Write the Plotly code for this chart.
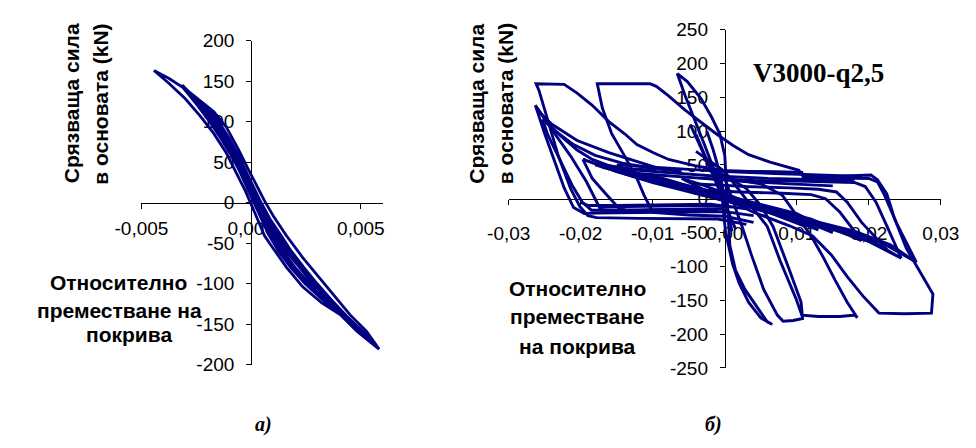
import plotly.graph_objects as go

W, H = 976, 448
LINE = "#000080"

# ---------------- chart а): small-amplitude cycles ----------------
a_rise0_x = [0.00030, -0.00040, -0.00100, -0.00170, -0.00230, -0.00300, -0.00374, -0.00443]
a_rise0_y = [5, 35, 70, 100, 122, 140, 153, 163]

a_down1_x = [-0.00443, -0.00374, -0.00300, -0.00230, -0.00170, -0.00113, -0.00070, -0.00026, 0.00017,
             0.00061, 0.00091, 0.00161, 0.00235, 0.00322, 0.00409, 0.00483, 0.00583]
a_down1_y = [163, 147, 128, 106, 85, 61, 38, 14, -13, -41, -53, -80, -104, -124, -139, -159, -181]

a_up1_x = [0.00583, 0.00526, 0.00452, 0.00378, 0.00309, 0.00235, 0.00161, 0.00104, 0.00061, 0.00030,
           -0.00013, -0.00057, -0.00113, -0.00170, -0.00243, -0.00317]
a_up1_y = [-181, -159, -139, -115, -92, -68, -41, -18, 2, 18, 41, 65, 93, 112, 128, 144]

a_levels_y = [144, 120, 100, 80, 60, 40, 20, 0, -20, -40, -60, -80, -100, -120, -140, -160, -172]
a_down2_x = [-0.00317, -0.00245, -0.00190, -0.00140, -0.00095, -0.00055, -0.00022, 0.00012, 0.00045,
             0.00080, 0.00125, 0.00180, 0.00245, 0.00325, 0.00425, 0.00495, 0.00545]
a_down3_x = [-0.00317, -0.00238, -0.00180, -0.00128, -0.00082, -0.00042, -0.00008, 0.00025, 0.00060,
             0.00097, 0.00145, 0.00200, 0.00265, 0.00340, 0.00435, 0.00505, 0.00550]
a_down4_x = [-0.00310, -0.00242, -0.00185, -0.00134, -0.00088, -0.00048, -0.00015, 0.00018, 0.00052,
             0.00088, 0.00135, 0.00190, 0.00255, 0.00333, 0.00430, 0.00500, 0.00548]
a_up2_x = [-0.00317, -0.00215, -0.00148, -0.00102, -0.00062, -0.00026, 0.00010, 0.00045, 0.00085,
           0.00135, 0.00183, 0.00240, 0.00300, 0.00365, 0.00435, 0.00512, 0.00550]
a_up3_x = [-0.00317, -0.00225, -0.00160, -0.00115, -0.00075, -0.00040, -0.00005, 0.00028, 0.00065,
           0.00112, 0.00160, 0.00218, 0.00280, 0.00345, 0.00420, 0.00500, 0.00545]
a_up4_x = [-0.00312, -0.00220, -0.00154, -0.00108, -0.00068, -0.00033, 0.00002, 0.00036, 0.00075,
           0.00123, 0.00172, 0.00229, 0.00290, 0.00355, 0.00428, 0.00506, 0.00548]

a_xticks = [-0.005, 0.0, 0.005]
a_xtick_text = ["-0,005", "0,000", "0,005"]
a_yticks = [-200, -150, -100, -50, 0, 50, 100, 150, 200]

# ---------------- chart б): V3000-q2,5 ----------------
# large cycle towards the negative side (plateau near +170 kN)
b_loop1_x = [0.0107, 0.0050, 0.0000, -0.0042, -0.0078, -0.0099, -0.0122, -0.0139, -0.0161, -0.0184,
             -0.0205, -0.0223, -0.0245, -0.0262, -0.0258, -0.0244, -0.0231, -0.0214, -0.0201, -0.0190,
             -0.0178, -0.0120, -0.0060, -0.0010, 0.0030]
b_loop1_y = [39, 40, 41, 49, 58, 68, 80, 96, 114, 138, 156, 169, 170, 170, 160, 110, 63, 15, -12, -25,
             -28, -29, -29, -30, -38]

b_loop2_x = [0.0200, 0.0160, 0.0110, 0.0103, 0.0063, 0.0033, 0.0011, -0.0012, -0.0033, -0.0055,
             -0.0078, -0.0095, -0.0104, -0.0140, -0.0177, -0.0170, -0.0157, -0.0139, -0.0122, -0.0112,
             -0.0100, -0.0050, 0.0000, 0.0040]
b_loop2_y = [30, 31, 31, 42, 54, 65, 79, 96, 113, 131, 152, 166, 170, 170, 170, 134, 96, 63, 30, 5,
             -20, -24, -26, -35]

b_peak_x = [0.0066, 0.0063, 0.0050, 0.0033, 0.0020, 0.0011, 0.0001, -0.0005, -0.0016, -0.0029,
            -0.0042, -0.0055, -0.0066, -0.0052, -0.0033, -0.0018, -0.0007, 0.0000, 0.0007, 0.0015,
            0.0028, 0.0046, 0.0059, 0.0066]
b_peak_y = [-186, -184, -176, -153, -125, -97, -49, 18, 46, 82, 117, 152, 185, 173, 148, 120, 96, 64,
            -69, -106, -134, -162, -182, -186]

b_lobe2_x = [-0.0030, 0.0000, 0.0024, 0.0037, 0.0054, 0.0073, 0.0081, 0.0095, 0.0108, 0.0106, 0.0090,
             0.0067, 0.0050, 0.0030, 0.0000, -0.0030]
b_lobe2_y = [60, 30, -41, -83, -134, -172, -181, -180, -177, -153, -106, -41, -10, 15, 35, 44]

b_lobe3_x = [-0.0040, 0.0000, 0.0040, 0.0059, 0.0077, 0.0099, 0.0107, 0.0130, 0.0160, 0.0181, 0.0184,
             0.0170, 0.0153, 0.0137, 0.0120, 0.0100, 0.0080, 0.0050, 0.0000]
b_lobe3_y = [70, 40, -15, -41, -92, -148, -172, -174, -174, -172, -176, -153, -120, -87, -55, -25, 5,
             22, 30]

b_lobe4_x = [-0.0020, 0.0040, 0.0090, 0.0122, 0.0148, 0.0170, 0.0192, 0.0214, 0.0250, 0.0287, 0.0289,
             0.0273, 0.0252, 0.0235, 0.0225, 0.0212, 0.0203, 0.0150, 0.0110]
b_lobe4_y = [10, -20, -40, -55, -83, -115, -144, -169, -170, -169, -141, -111, -73, -27, 7, 28, 35, 33,
             32]

# response lines along the sloping central band
b_diag1_x = [-0.0197, -0.0150, -0.0100, -0.0050, 0.0000, 0.0060, 0.0120, 0.0180, 0.0230, 0.0266,
             0.0220, 0.0160, 0.0100, 0.0040, -0.0020, -0.0080, -0.0140, -0.0197]
b_diag1_y = [58, 40, 24, 10, -3, -18, -32, -48, -68, -94, -66, -44, -27, -10, 6, 22, 38, 58]

b_diag2_x = [-0.0180, -0.0130, -0.0080, -0.0030, 0.0020, 0.0080, 0.0140, 0.0200, 0.0245, 0.0200,
             0.0140, 0.0080, 0.0020, -0.0040, -0.0100, -0.0180]
b_diag2_y = [50, 34, 20, 6, -8, -24, -40, -60, -88, -63, -42, -25, -7, 10, 27, 50]

b_diag3_x = [-0.0161, -0.0110, -0.0060, -0.0010, 0.0040, 0.0100, 0.0160, 0.0225, 0.0170, 0.0110,
             0.0050, -0.0010, -0.0070, -0.0161]
b_diag3_y = [49, 32, 18, 4, -10, -26, -44, -75, -48, -30, -13, 4, 20, 49]

b_diag4_x = [-0.0135, -0.0090, -0.0040, 0.0010, 0.0060, 0.0120, 0.0190, 0.0130, 0.0070, 0.0010,
             -0.0050, -0.0135]
b_diag4_y = [42, 28, 14, 0, -14, -30, -62, -35, -18, -2, 14, 42]

b_diag5_x = [-0.0105, -0.0060, -0.0010, 0.0040, 0.0100, 0.0150, 0.0090, 0.0030, -0.0030, -0.0105]
b_diag5_y = [36, 22, 8, -6, -22, -50, -24, -6, 10, 36]

b_diag6_x = [-0.0125, -0.0080, -0.0030, 0.0020, 0.0075, 0.0130, 0.0080, 0.0020, -0.0040, -0.0125]
b_diag6_y = [38, 25, 12, -2, -18, -46, -26, -8, 8, 38]

b_diag7_x = [-0.0090, -0.0050, 0.0000, 0.0050, 0.0110, 0.0060, 0.0000, -0.0050, -0.0090]
b_diag7_y = [30, 18, 4, -12, -40, -20, -2, 14, 30]

b_core_x = [-0.0060, -0.0030, 0.0000, 0.0030, 0.0060, 0.0030, 0.0000, -0.0030, -0.0060]
b_core_y = [30, 20, 8, -5, -18, -8, 2, 14, 30]

# return lines running along the upper right
b_top1_x = [-0.0020, 0.0040, 0.0107, 0.0110, 0.0160, 0.0200, 0.0212, 0.0222, 0.0238, 0.0252, 0.0266]
b_top1_y = [42, 40, 39, 31, 31, 30, 25, 5, -35, -65, -94]
b_top2_x = [-0.0030, 0.0040, 0.0100, 0.0150, 0.0180, 0.0195, 0.0210, 0.0225, 0.0245]
b_top2_y = [30, 27, 26, 25, 24, 18, -5, -40, -88]
b_top3_x = [-0.0040, 0.0030, 0.0090, 0.0130, 0.0155, 0.0170, 0.0190, 0.0225]
b_top3_y = [22, 18, 16, 14, 10, -5, -35, -75]
b_top4_x = [-0.0050, 0.0020, 0.0080, 0.0120, 0.0140, 0.0160, 0.0190]
b_top4_y = [14, 10, 8, 6, 0, -20, -62]

# gently sloping lines above the band
b_flat1_x = [-0.0150, -0.0080, 0.0000, 0.0080, 0.0140, 0.0190]
b_flat1_y = [50, 45, 40, 37, 35, 33]
b_flat2_x = [-0.0170, -0.0100, -0.0020, 0.0060, 0.0130, 0.0180]
b_flat2_y = [46, 40, 34, 30, 28, 27]
b_flat3_x = [-0.0130, -0.0060, 0.0020, 0.0090, 0.0150]
b_flat3_y = [38, 32, 26, 22, 19]

# low-force return lines on the negative side
b_low1_x = [-0.0200, -0.0190, -0.0150, -0.0080, -0.0020, 0.0030]
b_low1_y = [-5, -10, -10, -9, -8, -15]
b_low2_x = [-0.0175, -0.0168, -0.0120, -0.0050, 0.0000]
b_low2_y = [-15, -17, -17, -16, -15]

# lines fanning from the left-hand peaks
b_fan1_x = [-0.0095, -0.0131, -0.0161, -0.0184, -0.0205, -0.0227, -0.0244, -0.0263, -0.0250, -0.0236,
            -0.0223, -0.0210, -0.0195, -0.0180, -0.0120, -0.0060, 0.0000, 0.0040]
b_fan1_y = [42, 44, 49, 58, 72, 92, 110, 138, 96, 54, 16, -13, -22, -21, -20, -19, -19, -25]

b_fan2_x = [-0.0095, -0.0118, -0.0161, -0.0205, -0.0240, -0.0258, -0.0254, -0.0236, -0.0214, -0.0192,
            -0.0174, -0.0160, -0.0100, -0.0040, 0.0010]
b_fan2_y = [46, 54, 68, 86, 110, 128, 124, 96, 63, 25, -13, -12, -11, -10, -12]

b_fan3_x = [-0.0197, -0.0184, -0.0165, -0.0148, -0.0135, -0.0080, -0.0020]
b_fan3_y = [58, 30, 7, -13, -18, -16, -15]

b_fan4_x = [-0.0060, -0.0100, -0.0140, -0.0180, -0.0210, -0.0235, -0.0253, -0.0246, -0.0230, -0.0212,
            -0.0198, -0.0185, -0.0150, -0.0080, -0.0010]
b_fan4_y = [40, 45, 52, 64, 80, 100, 117, 95, 60, 20, -5, -17, -17, -16, -16]

# steep branches close to zero drift
b_steep1_x = [-0.0040, -0.0030, -0.0018, -0.0008, 0.0000, 0.0008, 0.0015]
b_steep1_y = [95, 70, 40, 15, -5, -25, -45]
b_steep2_x = [-0.0025, -0.0016, -0.0008, -0.0002, 0.0004, 0.0010]
b_steep2_y = [100, 72, 42, 12, -20, -48]
b_steep3_x = [-0.0048, -0.0035, -0.0022, -0.0012, -0.0004, 0.0004]
b_steep3_y = [110, 80, 52, 28, 8, -12]

b_xticks = [-0.03, -0.02, -0.01, 0.0, 0.01, 0.02, 0.03]
b_xtick_text = ["-0,03", "-0,02", "-0,01", "0,00", "0,01", "0,02", "0,03"]
b_yticks = [-250, -200, -150, -100, -50, 0, 50, 100, 150, 200, 250]


def px_x(p):
    return p / W


def px_y(p):
    return 1 - p / H


fig = go.Figure()

a_paths = [
    (a_rise0_x, a_rise0_y),
    (a_down1_x, a_down1_y),
    (a_up1_x, a_up1_y),
    (a_down2_x, a_levels_y),
    (a_up2_x[::-1], a_levels_y[::-1]),
    (a_down3_x, a_levels_y),
    (a_up3_x[::-1], a_levels_y[::-1]),
    (a_down4_x, a_levels_y),
    (a_up4_x[::-1], a_levels_y[::-1]),
]
ax, ay = [], []
for xs, ys in a_paths:
    ax += list(xs)
    ay += list(ys)
fig.add_trace(go.Scatter(x=ax, y=ay, mode="lines", line=dict(color=LINE, width=2.8),
                         xaxis="x", yaxis="y", hoverinfo="skip"))

b_paths = [
    (b_loop1_x, b_loop1_y), (b_loop2_x, b_loop2_y), (b_peak_x, b_peak_y),
    (b_lobe2_x, b_lobe2_y), (b_lobe3_x, b_lobe3_y), (b_lobe4_x, b_lobe4_y),
    (b_diag1_x, b_diag1_y), (b_diag2_x, b_diag2_y), (b_diag3_x, b_diag3_y),
    (b_diag4_x, b_diag4_y), (b_diag5_x, b_diag5_y), (b_diag6_x, b_diag6_y),
    (b_diag7_x, b_diag7_y), (b_core_x, b_core_y),
    (b_top1_x, b_top1_y), (b_top2_x, b_top2_y), (b_top3_x, b_top3_y), (b_top4_x, b_top4_y),
    (b_flat1_x, b_flat1_y), (b_flat2_x, b_flat2_y), (b_flat3_x, b_flat3_y),
    (b_low1_x, b_low1_y), (b_low2_x, b_low2_y),
    (b_fan1_x, b_fan1_y), (b_fan2_x, b_fan2_y), (b_fan3_x, b_fan3_y), (b_fan4_x, b_fan4_y),
    (b_steep1_x, b_steep1_y), (b_steep2_x, b_steep2_y), (b_steep3_x, b_steep3_y),
]
for xs, ys in b_paths:
    fig.add_trace(go.Scatter(x=xs, y=ys, mode="lines", line=dict(color=LINE, width=2.9),
                             xaxis="x2", yaxis="y2", hoverinfo="skip"))

tick_font = dict(family="Liberation Sans, Arial, sans-serif", size=19, color="black")

# chart а) plot box
a_xdom = [px_x(120), px_x(373)]
a_ydom = [px_y(372), px_y(32)]
a_xr = [-0.005, 0.006]
a_yr = [-200, 200]
# chart б) plot box
b_xdom = [px_x(505), px_x(958)]
b_ydom = [px_y(375.5), px_y(20.5)]
b_xr = [-0.03, 0.03]
b_yr = [-250, 250]


def cross(dom, rng):
    return dom[0] + (0 - rng[0]) / (rng[1] - rng[0]) * (dom[1] - dom[0])


axis_common = dict(showline=True, linecolor="black", linewidth=1, ticks="outside", ticklen=5,
                   tickwidth=1, tickcolor="black", showgrid=False, zeroline=False,
                   tickfont=tick_font, layer="below traces", fixedrange=True,
                   ticklabeloverflow="allow")

fig.update_layout(
    width=W, height=H, margin=dict(l=0, r=0, t=0, b=0),
    paper_bgcolor="white", plot_bgcolor="rgba(0,0,0,0)", showlegend=False,
    xaxis=dict(domain=a_xdom, range=a_xr, anchor="free", position=cross(a_ydom, a_yr),
               tickvals=a_xticks, ticktext=a_xtick_text, ticklabelstandoff=4, **axis_common),
    yaxis=dict(domain=a_ydom, range=a_yr, anchor="free", position=cross(a_xdom, a_xr),
               tickvals=a_yticks, ticktext=[str(v) for v in a_yticks], ticklabelstandoff=8,
               **axis_common),
    xaxis2=dict(domain=b_xdom, range=b_xr, anchor="free", position=cross(b_ydom, b_yr),
                tickvals=b_xticks, ticktext=b_xtick_text, ticklabelstandoff=12, **axis_common),
    yaxis2=dict(domain=b_ydom, range=b_yr, anchor="free", position=cross(b_xdom, b_xr),
                tickvals=b_yticks, ticktext=[str(v) for v in b_yticks], ticklabelstandoff=8,
                **axis_common),
)

title_font = dict(family="Liberation Sans, Arial, sans-serif", size=21, color="black")
serif = "Liberation Serif, Times New Roman, serif"
labels = [
    # (text, x px, y px, angle, font)
    ("Срязваща сила", 47, 98, -90, title_font),
    ("в основата (kN)", 77, 99, -90, title_font),
    ("Относително", 96, 286, 0, title_font),
    ("преместване на", 97, 315, 0, title_font),
    ("покрива", 107, 340, 0, title_font),
    ("Срязваща сила", 471, 98, -90, title_font),
    ("в основата (kN)", 502, 98, -90, title_font),
    ("Относително", 577, 292, 0, title_font),
    ("преместване", 577, 322, 0, title_font),
    ("на покрива", 577, 353, 0, title_font),
    ("V3000-q2,5", 830, 66, 0, dict(family=serif, size=27, color="black")),
    ("<i>а)</i>", 248, 435, 0, dict(family=serif, size=20, color="black")),
    ("<i>б)</i>", 720, 435, 0, dict(family=serif, size=20, color="black")),
]
for text, x, y, ang, font in labels:
    fig.add_annotation(text="<b>" + text + "</b>", x=px_x(x), y=px_y(y), xref="paper", yref="paper",
                       showarrow=False, textangle=ang, font=font, xanchor="center", yanchor="middle")

fig.write_html("out.html")
